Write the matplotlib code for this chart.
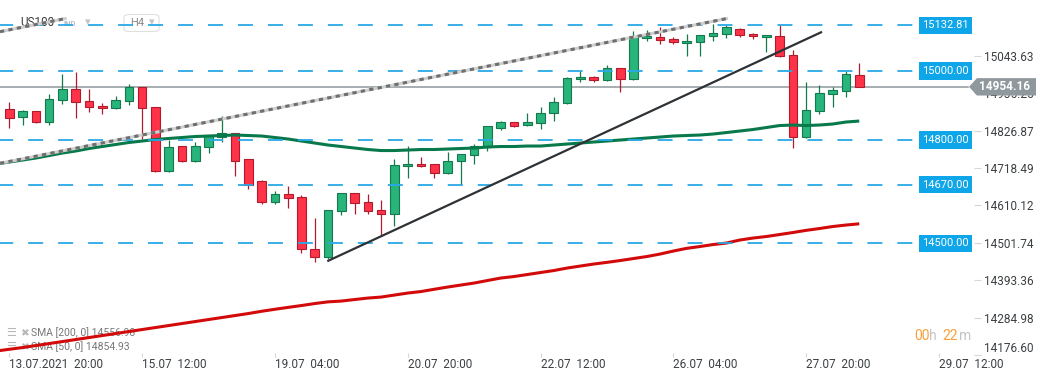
import matplotlib
matplotlib.use("Agg")
import matplotlib.pyplot as plt
import matplotlib.transforms as mtransforms
from matplotlib.patches import Polygon, FancyBboxPatch
import numpy as np

plt.rcParams["font.family"] = ["Roboto", "DejaVu Sans"]

# ── Data: US100, H4 candles (13.07.2021 20:00 onwards) ─────────
opens  = [14888.9, 14865.7, 14883.2, 14851.2, 14915.0, 14946.9, 14912.1, 14897.6, 14891.8, 14912.1,
          14952.7, 14894.7, 14709.1, 14781.6, 14739.9, 14778.7, 14807.7, 14819.3, 14743.9, 14680.1,
          14619.2, 14642.4, 14633.7, 14482.9, 14461.5, 14593.1, 14645.3, 14619.2, 14596.0, 14584.4,
          14723.6, 14729.4, 14729.4, 14703.3, 14738.1, 14755.5, 14780.5, 14833.8, 14851.2, 14842.5,
          14848.3, 14877.3, 14906.3, 14975.9, 14981.7, 14973.0, 15007.8, 14975.9, 15094.8, 15097.7,
          15091.9, 15080.3, 15083.2, 15100.6, 15106.4, 15120.9, 15106.4, 15097.7, 15100.6, 15045.5,
          14807.7, 14883.2, 14932.4, 14941.1, 14987.5]
highs  = [14910.1, 14886.9, 14884.0, 14933.3, 14991.3, 14997.1, 14946.9, 14906.3, 14927.5, 14962.3,
          14953.5, 14895.5, 14799.9, 14782.4, 14794.1, 14814.3, 14869.5, 14820.1, 14744.7, 14683.0,
          14651.1, 14665.6, 14639.5, 14573.7, 14596.8, 14646.1, 14646.1, 14642.4, 14625.0, 14743.9,
          14781.6, 14749.7, 14730.2, 14764.2, 14759.2, 14787.4, 14840.4, 14854.1, 14852.0, 14877.3,
          14894.7, 14923.7, 14981.7, 14999.1, 14984.6, 15016.5, 15008.6, 15115.1, 15118.0, 15126.7,
          15097.7, 15106.4, 15104.3, 15135.4, 15132.5, 15123.8, 15109.3, 15104.3, 15132.5, 15060.0,
          14967.2, 14958.5, 14952.7, 14999.1, 15022.3]
lows   = [14835.6, 14844.3, 14850.5, 14844.3, 14905.2, 14864.6, 14882.0, 14876.2, 14888.9, 14900.5,
          14801.9, 14708.3, 14708.3, 14737.0, 14737.0, 14763.1, 14794.1, 14696.4, 14658.7, 14615.2,
          14615.2, 14603.6, 14473.1, 14447.0, 14455.7, 14581.5, 14584.4, 14584.4, 14520.6, 14549.6,
          14688.8, 14722.8, 14688.8, 14702.5, 14670.3, 14729.4, 14768.9, 14828.0, 14838.8, 14839.6,
          14831.0, 14854.1, 14903.4, 14967.2, 14967.2, 14972.2, 14938.2, 14973.0, 15086.1, 15077.4,
          15077.4, 15042.6, 15042.6, 15086.1, 15094.8, 15097.7, 15091.9, 15054.2, 15041.8, 14775.8,
          14806.9, 14874.4, 14894.7, 14923.7, 14953.4]
closes = [14862.8, 14883.2, 14851.2, 14917.9, 14946.9, 14909.2, 14894.7, 14891.8, 14915.0, 14952.7,
          14891.8, 14709.1, 14778.7, 14739.9, 14781.6, 14813.5, 14819.3, 14739.9, 14670.3, 14619.2,
          14642.4, 14630.8, 14482.9, 14461.5, 14596.0, 14645.3, 14616.3, 14593.1, 14584.4, 14726.5,
          14729.4, 14723.6, 14703.3, 14738.1, 14758.4, 14781.6, 14839.6, 14851.2, 14839.6, 14851.2,
          14877.3, 14909.2, 14978.8, 14981.7, 14973.0, 15007.8, 14975.9, 15100.6, 15100.6, 15089.0,
          15083.2, 15086.1, 15103.5, 15109.3, 15126.7, 15103.5, 15100.6, 15103.5, 15042.6, 14807.7,
          14886.0, 14935.3, 14944.0, 14990.4, 14954.16]

# SMA values, first entry is the candle before the first visible one
sma50  = [14730.3, 14736.1, 14741.9, 14747.7, 14754.9, 14762.2, 14768.0, 14775.3, 14781.1, 14786.9,
          14792.7, 14797.0, 14801.4, 14804.4, 14807.2, 14810.1, 14811.5, 14813.0, 14814.4, 14813.0,
          14811.5, 14807.2, 14802.8, 14797.0, 14791.2, 14785.4, 14781.1, 14776.7, 14772.4, 14769.4,
          14769.4, 14770.9, 14772.4, 14772.4, 14773.8, 14775.3, 14776.7, 14779.6, 14781.1, 14781.1,
          14782.5, 14782.5, 14785.4, 14788.3, 14791.2, 14794.1, 14797.0, 14799.9, 14802.8, 14805.7,
          14808.6, 14811.5, 14813.0, 14814.4, 14817.3, 14821.6, 14826.0, 14830.4, 14836.1, 14841.9,
          14843.4, 14841.9, 14843.4, 14846.3, 14852.1, 14854.93]
sma200 = [14188.0, 14193.2, 14198.2, 14204.0, 14209.8, 14215.6, 14221.4, 14227.2, 14233.0, 14238.8,
          14244.6, 14250.4, 14256.2, 14262.0, 14267.8, 14273.6, 14279.4, 14285.2, 14291.0, 14296.8,
          14303.4, 14309.2, 14314.7, 14320.0, 14325.8, 14330.7, 14333.0, 14337.4, 14341.7, 14344.6,
          14350.4, 14356.2, 14360.6, 14367.2, 14373.6, 14379.4, 14385.2, 14392.5, 14399.7, 14404.1,
          14409.9, 14415.7, 14421.5, 14428.7, 14434.5, 14440.3, 14445.2, 14450.5, 14456.3, 14462.1,
          14469.3, 14478.0, 14485.8, 14491.1, 14496.9, 14501.2, 14509.9, 14515.7, 14520.1, 14525.9,
          14531.7, 14538.0, 14543.3, 14549.1, 14553.4, 14556.98]

levels      = [15132.81, 15000.00, 14800.00, 14670.00, 14500.00]
last_price  = 14954.16
ytick_vals  = [15043.63, 14935.25, 14826.87, 14718.49, 14610.12, 14501.74, 14393.36, 14284.98, 14176.60]
xtick_labels = ["13.07.2021  20:00", "15.07  12:00", "19.07  04:00", "20.07  20:00",
                "22.07  12:00", "26.07  04:00", "27.07  20:00", "29.07  12:00"]

# drawn trend lines: (candle index, price) pairs
channel_lower = [(-0.70, 14732.3), (54.12, 15152.8)]
channel_upper = [(-0.70, 15114.0), (4.32, 15152.8)]
trend_black   = [(24.02, 14449.9), (61.12, 15112.2)]

# ── Colours ────────────────────────────────────────────────────
UP_FILL, UP_EDGE = "#28b47b", "#137a4d"
DN_FILL, DN_EDGE = "#ff3348", "#b01c2d"
LEVEL_BLUE = "#2aa8e6"
BOX_BLUE   = "#0ea5e9"
PRICE_GRAY = "#8f989c"

# ── Figure ─────────────────────────────────────────────────────
W, H = 1041, 380
fig = plt.figure(figsize=(W / 100, H / 100), dpi=100)
ax = fig.add_axes([0, 25 / H, 974 / W, 355 / H])
ax.set_xlim(-0.70, 72.64)
ax.set_ylim(14176.6, 15205.9)
for s in ax.spines.values():
    s.set_visible(False)

idx = np.arange(len(opens))
o, c = np.array(opens), np.array(closes)
hi, lo = np.array(highs), np.array(lows)
up = c >= o

# wicks
ax.vlines(idx[up], lo[up], hi[up], color=UP_EDGE, lw=0.9, zorder=3)
ax.vlines(idx[~up], lo[~up], hi[~up], color=DN_EDGE, lw=0.9, zorder=3)
# bodies
body = np.maximum(np.abs(c - o), 2.5)
ax.bar(idx[up], body[up], bottom=np.minimum(o, c)[up], width=0.65,
       color=UP_FILL, edgecolor=UP_EDGE, lw=0.8, zorder=4)
ax.bar(idx[~up], body[~up], bottom=np.minimum(o, c)[~up], width=0.65,
       color=DN_FILL, edgecolor=DN_EDGE, lw=0.8, zorder=4)

# moving averages
xs = np.arange(-1, len(opens))
ax.plot(xs, sma50, color="#08794b", lw=2.2, zorder=5, solid_capstyle="butt")
ax.plot(xs, sma200, color="#d20a0a", lw=2.2, zorder=5, solid_capstyle="butt")

# horizontal levels
for lv in levels:
    ax.axhline(lv, xmax=915 / 974, color=LEVEL_BLUE, lw=1.3,
               linestyle=(1, (8.3, 8.3)), zorder=6)
    ax.text(945.5 / 974, lv, f"{lv:.2f}", transform=mtransforms.blended_transform_factory(ax.transAxes, ax.transData),
            ha="center", va="center", color="white", fontsize=8, zorder=8,
            bbox=dict(boxstyle="square,pad=0.32", fc=BOX_BLUE, ec="none"))

ax.axhline(last_price, xmax=968 / 974, color=PRICE_GRAY, lw=1.1, zorder=2)

# trend lines
for ln in (channel_lower, channel_upper):
    (x0, y0), (x1, y1) = ln
    ax.plot([x0, x1], [y0, y1], color="#cfcfcf", lw=2.2, zorder=7, solid_capstyle="butt")
    ax.plot([x0, x1], [y0, y1], color="#6f6f6f", lw=2.2, zorder=7,
            linestyle=(0, (1.4, 1.4)))
(x0, y0), (x1, y1) = trend_black
ax.plot([x0, x1], [y0, y1], color="#2d3236", lw=1.6, zorder=7)

# axes ticks
ax.yaxis.tick_right()
ax.set_yticks(ytick_vals, labels=[f"{v:.2f}" for v in ytick_vals])
ax.tick_params(axis="y", length=5, color="#d6d6d6", labelcolor="#3c4043",
               labelsize=8.5, pad=2)
ax.get_yticklabels()[-1].set_va("bottom")
ax.set_xticks(range(0, 10 * len(xtick_labels), 10), labels=xtick_labels)
ax.tick_params(axis="x", direction="inout", length=3, color="#d6d6d6",
               labelcolor="#3c4043", labelsize=8.5, pad=0.5)
for lab in ax.get_xticklabels():
    lab.set_ha("left")

# current price tag
yd = ax.transData.transform((0, last_price))[1]
yf = fig.transFigure.inverted().transform((0, yd))[1]
hh = 8.7 / H
tag = Polygon([(969 / W, yf), (977 / W, yf + hh), (1036 / W, yf + hh),
               (1036 / W, yf - hh), (977 / W, yf - hh)],
              closed=True, transform=fig.transFigure, fc=PRICE_GRAY, ec="none", zorder=5)
fig.add_artist(tag)
fig.text(1005 / W, yf, f"{last_price:.2f}", ha="center", va="center",
         color="white", fontsize=8.5, fontweight="bold", zorder=6)

# header (drawn under the channel line)
tf = fig.transFigure
ax.text(20 / W, 1 - 23 / H, "US100", transform=tf, fontsize=8.5, color="#3a3a3a",
        va="center", ha="left", zorder=1)
ax.text(64 / W, 1 - 24 / H, "IND", transform=tf, fontsize=5.5, color="#b4bfca",
        fontweight="bold", va="center", ha="left", zorder=1)
ax.text(88 / W, 1 - 22 / H, "▾", transform=tf, fontsize=8, color="#c4c4c4",
        va="center", ha="center", zorder=1)
box = FancyBboxPatch((124 / W, 1 - 31.5 / H), 35 / W, 17 / H,
                     boxstyle="round,pad=0,rounding_size=0.006", transform=tf,
                     fc="white", ec="#e0e0e0", lw=0.8, zorder=1)
ax.add_artist(box)
ax.text(130 / W, 1 - 23 / H, "H4", transform=tf, fontsize=8, color="#8a8a8a",
        va="center", ha="left", zorder=1)
ax.text(152 / W, 1 - 22 / H, "▾", transform=tf, fontsize=8, color="#c4c4c4",
        va="center", ha="center", zorder=1)

# indicator legend (under the SMA line)
for yy, txt in [(333, "SMA [200, 0] 14556.98"), (347, "SMA [50, 0] 14854.93")]:
    ax.text(6 / W, 1 - yy / H, "☰", transform=tf, fontsize=8, color="#b8b8b8",
            va="center", ha="left", zorder=1)
    ax.text(20 / W, 1 - yy / H, "✖", transform=tf, fontsize=7.5, color="#b8b8b8",
            va="center", ha="left", zorder=1)
    ax.text(31 / W, 1 - yy / H, txt, transform=tf, fontsize=7.5, color="#777777",
            va="center", ha="left", zorder=1)

# candle countdown
for xx, txt, col in [(914, "00", "#f6a23a"), (929.5, "h", "#c4c4c4"),
                     (942, "22", "#f6a23a"), (958.5, "m", "#c4c4c4")]:
    fig.text(xx / W, 1 - 335.5 / H, txt, fontsize=10, color=col, va="center", ha="left")

fig.savefig("out.png", dpi=100, facecolor="white")
